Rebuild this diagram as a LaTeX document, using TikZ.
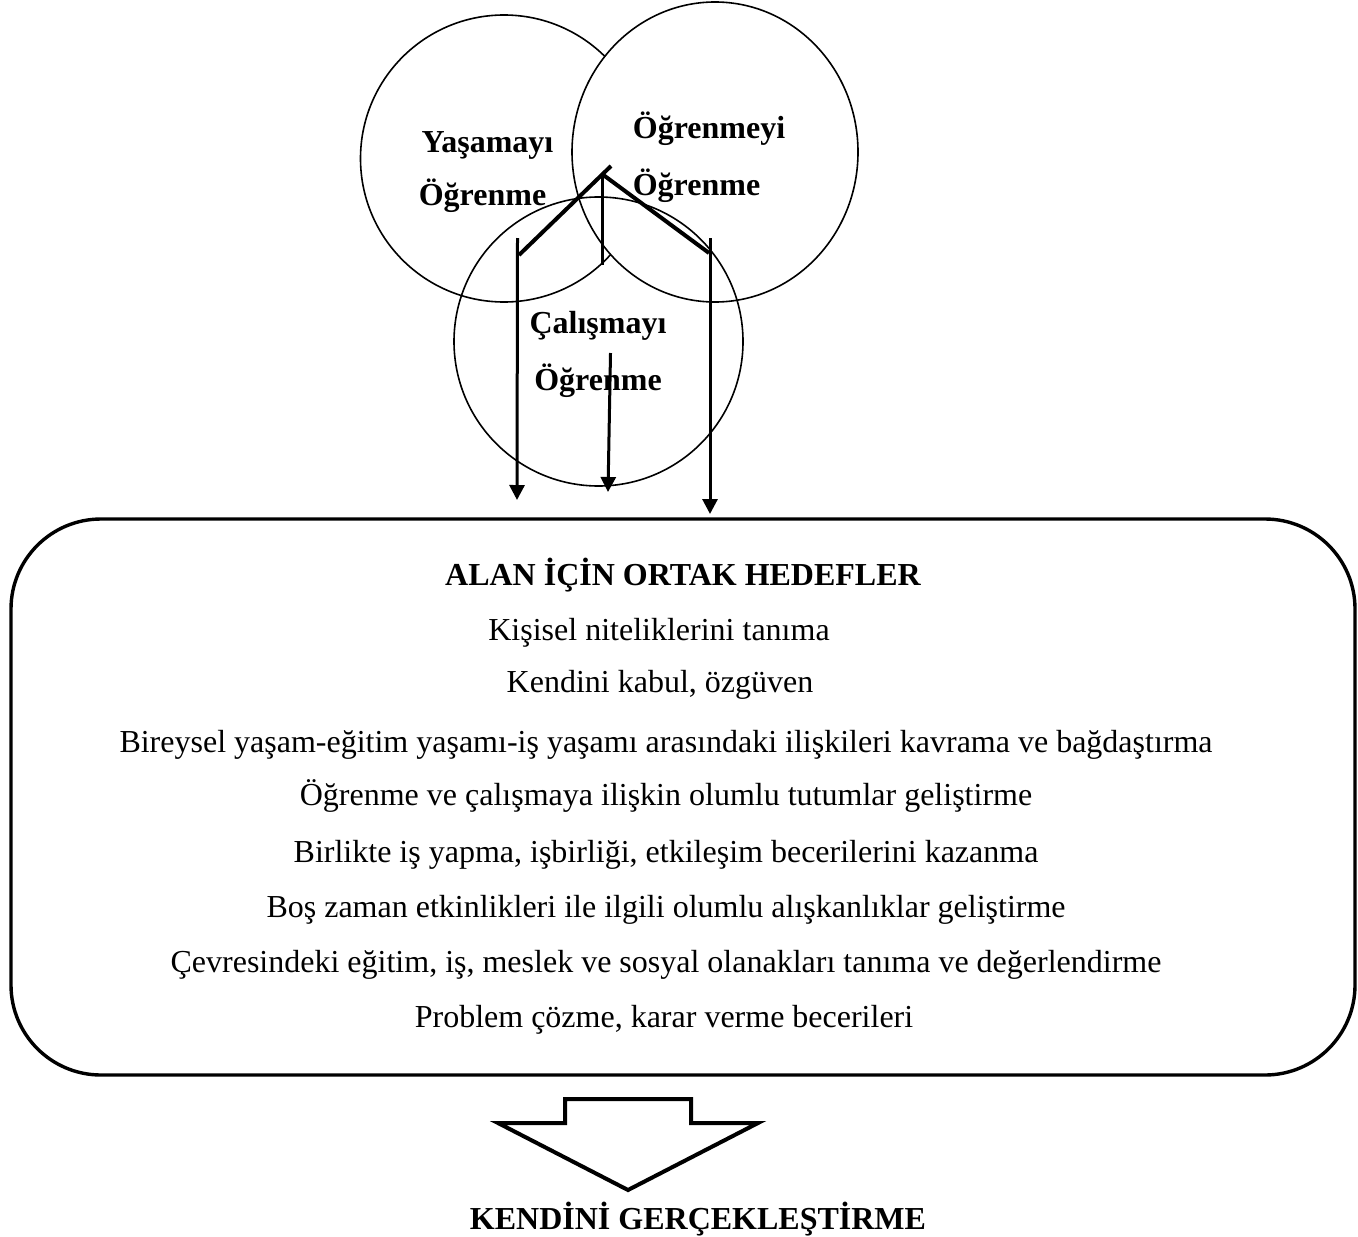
\documentclass[tikz,border=0pt]{standalone}
\usepackage{fontspec}
\setmainfont{Liberation Serif}
\usetikzlibrary{arrows.meta,shapes.geometric}
\begin{document}
\begin{tikzpicture}[x=0.5pt,y=-0.5pt,
  ring/.style={draw,line width=0.8pt,inner sep=0pt},
  lab/.style={font=\fontsize{16}{19}\selectfont\bfseries,inner sep=0pt,anchor=base},
  txt/.style={font=\fontsize{16}{19}\selectfont,inner sep=0pt,anchor=base},
  heavy/.style={line width=2pt,line cap=butt},
  pointer/.style={line width=1.5pt,-{Triangle[length=7.5pt,width=7.5pt]}},
  goalbox/.style={draw,line width=1.7pt,rounded corners=45pt,inner sep=0pt,
    minimum width=672pt,minimum height=278pt}
]
\useasboundingbox (0,0) rectangle (1358,1236);

% circles (the right one covers the left one)
\node[ring,circle,minimum size=143.5pt] (live) at (504,158.5) {};
\node[ring,ellipse,fill=white,minimum width=143pt,minimum height=150pt] (learn) at (715,152) {};
\node[ring,circle,minimum size=144.5pt] (work) at (598.5,341.5) {};

% circle labels
\node[lab] (l1) at (487.5,152) {Yaşamayı};
\node[lab] (l2) at (482.5,205) {Öğrenme};
\node[lab] (l3) at (709,139) {Öğrenmeyi};
\node[lab] (l4) at (696.5,195) {Öğrenme};
\node[lab] (l5) at (598,333) {Çalışmayı};
\node[lab] (l6) at (598,390) {Öğrenme};

% connector skeleton
\coordinate (apex) at (602,174);
\coordinate (tick) at (611,166);
\coordinate (lj) at (519,255);
\coordinate (rj) at (709,253);
\coordinate (vbot) at (602,265);
\coordinate (ltop) at (517.5,238);
\coordinate (lend) at (517,500);
\coordinate (rtop) at (710,238);
\coordinate (rend) at (710,514);
\coordinate (mtop) at (610.5,353);
\coordinate (mend) at (608,492);

\draw[heavy] (lj) -- (tick);
\draw[heavy] (apex) -- (rj);
\draw[line width=1.5pt] (apex) -- (vbot);
\draw[pointer] (ltop) -- (lend);
\draw[pointer] (rtop) -- (rend);
\draw[pointer] (mtop) -- (mend);

% goals box
\node[goalbox] (goals) at (683,797) {};
\node[txt,font=\fontsize{16}{19}\selectfont\bfseries] (t0) at (683,585) {ALAN İÇİN ORTAK HEDEFLER};
\node[txt] (t1) at (659,640) {Kişisel niteliklerini tanıma};
\node[txt] (t2) at (660,692) {Kendini kabul, özgüven};
\node[txt] (t3) at (666,752) {Bireysel yaşam-eğitim yaşamı-iş yaşamı arasındaki ilişkileri kavrama ve bağdaştırma};
\node[txt] (t4) at (666,805) {Öğrenme ve çalışmaya ilişkin olumlu tutumlar geliştirme};
\node[txt] (t5) at (666,862) {Birlikte iş yapma, işbirliği, etkileşim becerilerini kazanma};
\node[txt] (t6) at (666,917) {Boş zaman etkinlikleri ile ilgili olumlu alışkanlıklar geliştirme};
\node[txt] (t7) at (666,972) {Çevresindeki eğitim, iş, meslek ve sosyal olanakları tanıma ve değerlendirme};
\node[txt] (t8) at (664,1027) {Problem çözme, karar verme becerileri};

% block arrow
\draw[line width=2pt,line join=miter] (565,1099) -- (691,1099) -- (691,1123) -- (758,1123)
  -- (628,1190) -- (498,1123) -- (565,1123) -- cycle;

\node[lab] (res) at (698,1229) {KENDİNİ GERÇEKLEŞTİRME};
\end{tikzpicture}
\end{document}
